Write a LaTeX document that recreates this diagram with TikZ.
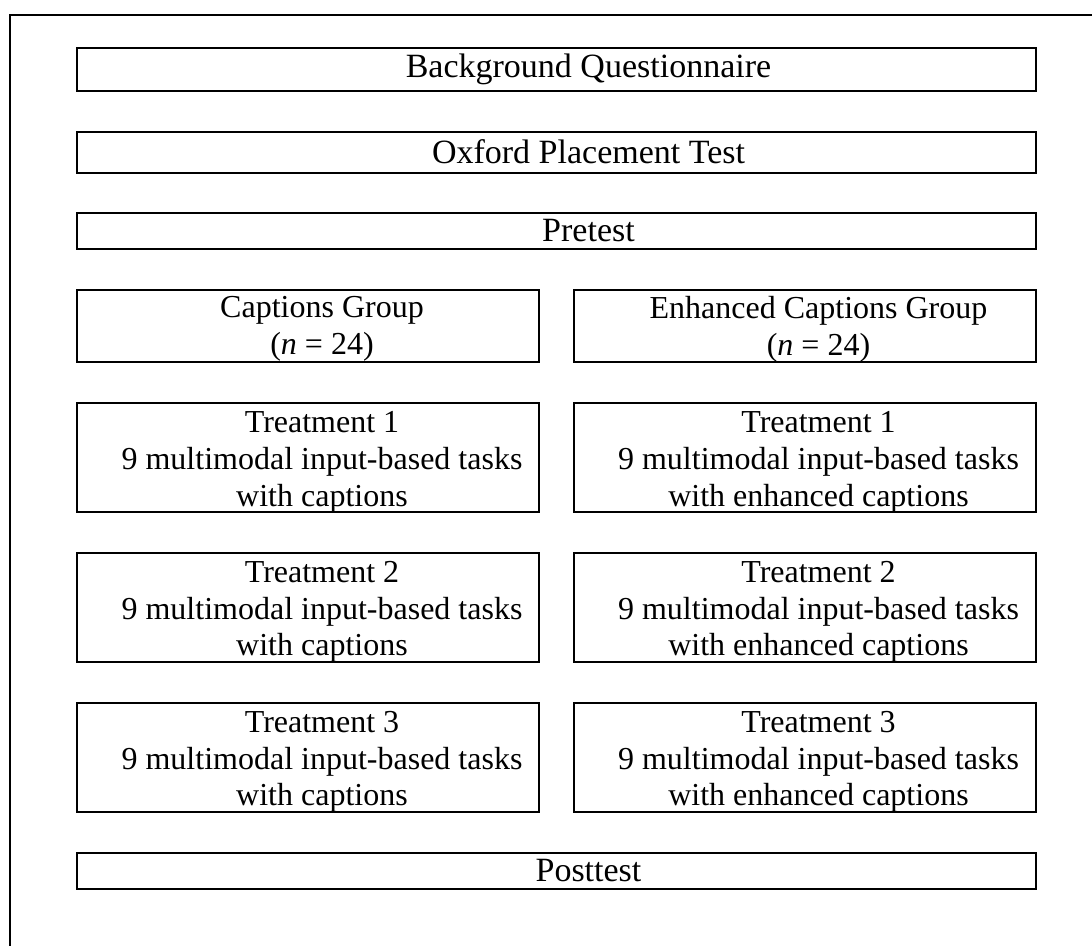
\documentclass[tikz,border=0pt]{standalone}
\usepackage{fontspec}
\setmainfont{Liberation Serif}
\begin{document}
\begin{tikzpicture}[x=1pt,y=-1pt,
  box/.style={draw,line width=2pt,rectangle,inner sep=0pt},
  full/.style={box,minimum width=959pt},
  half/.style={box,minimum width=462pt},
  fulltxt/.style={inner sep=0pt,align=center,font=\fontsize{34}{37}\selectfont},
  halftxt/.style={inner sep=0pt,align=center,font=\fontsize{32}{36.7}\selectfont}]
\useasboundingbox (0,0) rectangle (1092,945);
\begin{scope}
\clip (0,0) rectangle (1092,945);
\draw[line width=2pt] (10,15) rectangle (1200,1100);
\end{scope}
% boxes
\node[full,minimum height=43pt] (bq) at (556.5,69.5) {};
\node[full,minimum height=41pt] (opt) at (556.5,152) {};
\node[full,minimum height=36pt] (pre) at (556.5,231) {};
\node[half,minimum height=72pt] (cg) at (308,326) {};
\node[half,minimum height=72pt] (ecg) at (804.5,326) {};
\node[half,minimum height=109pt] (ct1) at (308,457.5) {};
\node[half,minimum height=109pt] (et1) at (804.5,457.5) {};
\node[half,minimum height=109pt] (ct2) at (308,607) {};
\node[half,minimum height=109pt] (et2) at (804.5,607) {};
\node[half,minimum height=109pt] (ct3) at (308,757) {};
\node[half,minimum height=109pt] (et3) at (804.5,757) {};
\node[full,minimum height=36pt] (post) at (556.5,871) {};
% texts
\node[fulltxt] (bqt) at ([xshift=32pt]bq.center) {Background Questionnaire};
\node[fulltxt] (optt) at ([xshift=32pt]opt.center) {Oxford Placement Test};
\node[fulltxt] (pret) at ([xshift=32pt]pre.center) {Pretest};
\node[halftxt] (cgt) at ([xshift=14pt,yshift=-3pt]cg.center) {Captions Group\\(\textit{n} = 24)};
\node[halftxt] (ecgt) at ([xshift=14pt,yshift=-3pt]ecg.center) {Enhanced Captions Group\\(\textit{n} = 24)};
\node[halftxt] (ct1t) at ([xshift=14pt,yshift=-5pt]ct1.center) {Treatment 1\\9 multimodal input-based tasks\\with captions};
\node[halftxt] (et1t) at ([xshift=14pt,yshift=-5pt]et1.center) {Treatment 1\\9 multimodal input-based tasks\\with enhanced captions};
\node[halftxt] (ct2t) at ([xshift=14pt,yshift=-5pt]ct2.center) {Treatment 2\\9 multimodal input-based tasks\\with captions};
\node[halftxt] (et2t) at ([xshift=14pt,yshift=-5pt]et2.center) {Treatment 2\\9 multimodal input-based tasks\\with enhanced captions};
\node[halftxt] (ct3t) at ([xshift=14pt,yshift=-5pt]ct3.center) {Treatment 3\\9 multimodal input-based tasks\\with captions};
\node[halftxt] (et3t) at ([xshift=14pt,yshift=-5pt]et3.center) {Treatment 3\\9 multimodal input-based tasks\\with enhanced captions};
\node[fulltxt] (postt) at ([xshift=32pt]post.center) {Posttest};
\end{tikzpicture}
\end{document}
